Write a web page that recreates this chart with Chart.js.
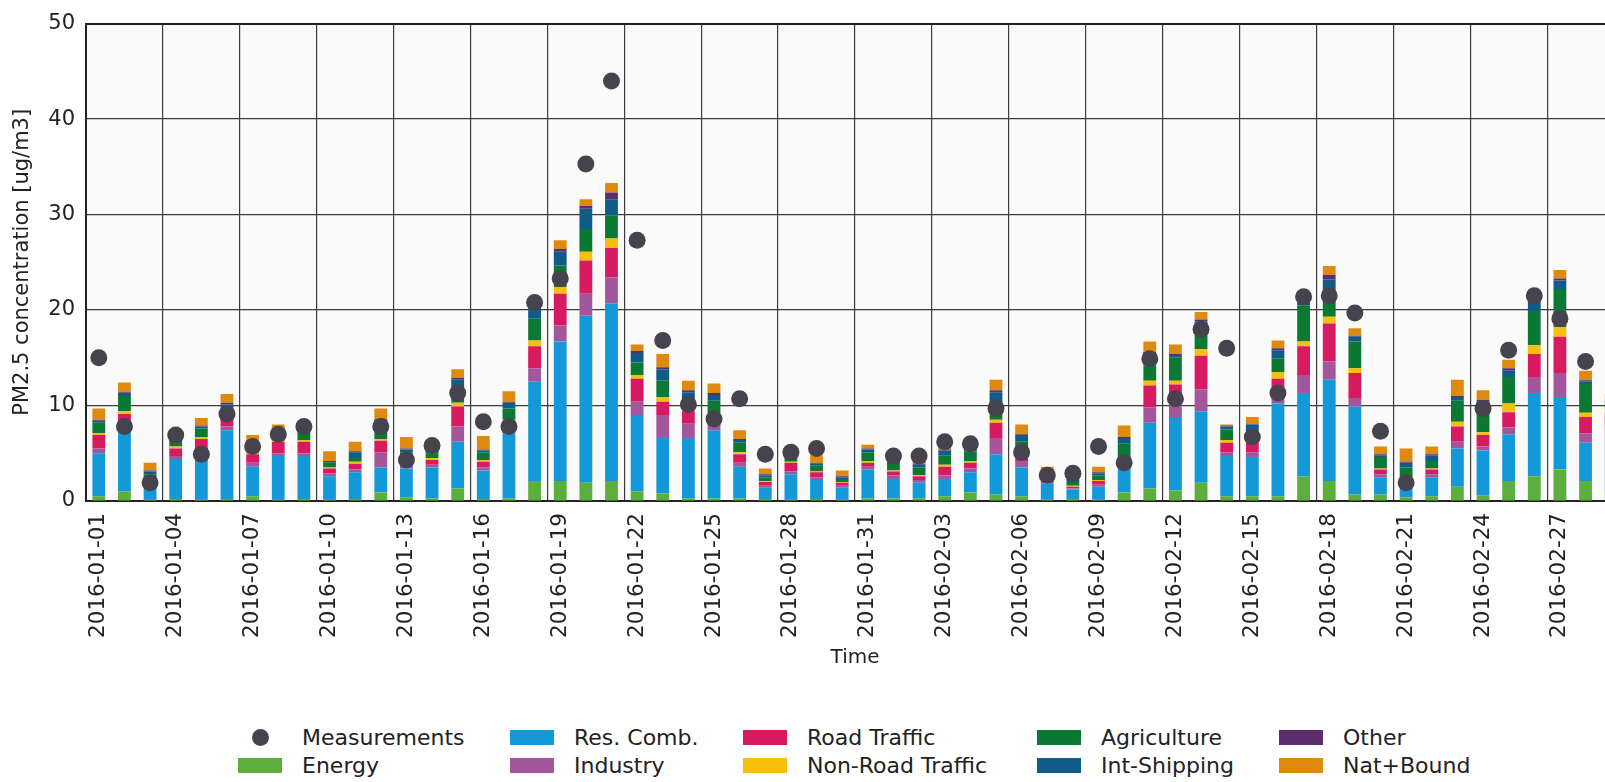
<!DOCTYPE html>
<html>
<head>
<meta charset="utf-8">
<script src="https://cdn.jsdelivr.net/npm/chart.js@4.4.1/dist/chart.umd.min.js"></script>
<style>
  body { margin: 0; background: #fff; overflow: hidden; }
  #wrap { position: relative; width: 1605px; height: 782px; overflow: hidden; }
  #chart { position: absolute; left: 0; top: 0; }
  #legend {
    position: absolute; left: 238px; top: 723px;
    display: grid; grid-auto-flow: column;
    grid-template-rows: 28px 28px;
    grid-template-columns: 272px 233px 294px 242px 220px;
    font-family: 'DejaVu Sans', sans-serif; font-size: 22px; color: #222;
  }
  .item { display: flex; align-items: center; white-space: nowrap; }
  .mark { width: 44px; height: 15px; margin-right: 20px; flex: none; display: flex; justify-content: center; align-items: center; }
  .dot { width: 17px; height: 17px; border-radius: 50%; }
</style>
</head>
<body>
<div id="wrap">
  <canvas id="chart" width="1660" height="700"></canvas>
  <div id="legend"></div>
</div>
<script>
// Dias (ene-feb 2016)
const days = [
  '2016-01-01','2016-01-02','2016-01-03','2016-01-04','2016-01-05','2016-01-06','2016-01-07','2016-01-08','2016-01-09','2016-01-10',
  '2016-01-11','2016-01-12','2016-01-13','2016-01-14','2016-01-15','2016-01-16','2016-01-17','2016-01-18','2016-01-19','2016-01-20',
  '2016-01-21','2016-01-22','2016-01-23','2016-01-24','2016-01-25','2016-01-26','2016-01-27','2016-01-28','2016-01-29','2016-01-30',
  '2016-01-31','2016-02-01','2016-02-02','2016-02-03','2016-02-04','2016-02-05','2016-02-06','2016-02-07','2016-02-08','2016-02-09',
  '2016-02-10','2016-02-11','2016-02-12','2016-02-13','2016-02-14','2016-02-15','2016-02-16','2016-02-17','2016-02-18','2016-02-19',
  '2016-02-20','2016-02-21','2016-02-22','2016-02-23','2016-02-24','2016-02-25','2016-02-26','2016-02-27','2016-02-28','2016-02-29'
];

// Medidas (null = sin dato)
const measurements = [15.0,7.8,1.9,6.9,4.9,9.1,5.7,7.0,7.8,null, null,7.8,4.3,5.8,11.3,8.3,7.8,20.8,23.3,35.3,
  44.0,27.3,16.8,10.1,8.6,10.7,4.9,5.1,5.5,null, null,4.7,4.7,6.2,6.0,9.7,5.1,2.7,2.9,5.7,
  4.0,14.9,10.7,18.0,16.0,6.7,11.3,21.4,21.5,19.7, 7.3,1.9,null,null,9.7,15.8,21.5,19.1,14.6,null];

// Contribuciones por sector
const energy = [0.5,1.0,0.2,0.2,0.2,0.2,0.5,0.2,0.2,0.2, 0.2,0.9,0.4,0.3,1.3,0.2,0.3,2.1,2.1,1.9,
  2.1,1.0,0.8,0.3,0.3,0.3,0.2,0.2,0.2,0.2, 0.3,0.3,0.3,0.5,0.9,0.7,0.5,0.2,0.2,0.2,
  0.9,1.3,1.1,1.9,0.5,0.5,0.5,2.6,2.1,0.7, 0.7,0.4,0.5,1.5,0.6,2.1,2.6,3.3,2.1,1.0];
const resComb = [4.5,6.2,1.4,4.2,4.8,7.2,3.1,4.5,4.5,2.4, 2.8,2.6,3.0,3.2,4.9,3.0,6.8,10.4,14.6,17.5,
  18.6,8.0,5.9,6.3,7.1,3.3,1.2,2.6,2.0,1.2, 3.0,2.0,1.6,1.8,2.1,4.2,3.0,1.6,1.0,1.3,
  2.7,6.9,7.6,7.5,4.2,4.1,9.7,8.7,10.6,9.2, 1.8,1.3,2.0,4.0,4.7,4.9,8.7,7.5,4.0,5.6];
const industry = [0.5,0.5,0.2,0.3,0.4,0.4,0.4,0.3,0.3,0.3, 0.3,1.6,0.3,0.3,1.6,0.3,0.4,1.4,1.7,2.3,
  2.7,1.4,2.3,1.5,0.7,0.4,0.2,0.3,0.3,0.2, 0.3,0.4,0.3,0.4,0.4,1.7,0.7,0.2,0.1,0.2,
  0.3,1.6,1.4,2.3,0.4,0.5,0.8,1.9,1.9,0.9, 0.3,0.3,0.3,0.7,0.4,0.7,1.7,2.6,1.0,0.8];
const roadTraffic = [1.4,1.4,0.3,0.8,1.1,1.0,0.9,1.2,1.2,0.5, 0.6,1.2,0.7,0.5,2.1,0.6,0.8,2.3,3.3,3.5,
  3.1,2.4,1.4,1.3,0.8,0.9,0.4,0.9,0.5,0.3, 0.4,0.4,0.4,0.9,0.6,1.6,0.6,0.3,0.2,0.4,
  0.4,2.3,2.1,3.5,1.0,1.0,1.8,3.0,4.0,2.6, 0.5,0.4,0.5,1.6,1.2,1.6,2.4,3.8,1.7,1.8];
const nonRoad = [0.2,0.3,0.1,0.2,0.2,0.2,0.2,0.2,0.2,0.1, 0.2,0.2,0.1,0.2,0.4,0.2,0.2,0.6,0.7,0.9,
  1.0,0.4,0.5,0.3,0.3,0.2,0.1,0.1,0.1,0.1, 0.2,0.1,0.1,0.2,0.2,0.3,0.2,0.1,0.1,0.1,
  0.2,0.5,0.4,0.7,0.3,0.3,0.7,0.5,0.7,0.5, 0.1,0.1,0.1,0.5,0.3,0.9,0.9,1.0,0.45,0.5];
const agriculture = [1.1,1.6,0.6,0.9,0.9,0.5,0.9,0.7,1.0,0.5, 0.5,1.2,0.6,0.5,0.8,0.8,1.2,2.3,2.3,2.4,
  2.4,1.3,1.7,0.8,1.3,1.0,0.4,0.3,0.6,0.3, 0.9,0.8,0.8,1.0,1.0,1.3,1.2,0.4,0.4,0.5,
  1.5,1.6,2.4,1.7,1.1,0.9,1.4,3.8,2.7,2.8, 1.2,1.0,0.8,2.2,2.4,2.8,3.6,4.0,3.0,0.5];
const intShipping = [0.2,0.3,0.3,0.2,0.2,0.6,0.2,0.2,0.1,0.2, 0.5,0.8,0.3,0.2,1.6,0.2,0.6,1.0,1.4,2.1,
  1.7,1.0,1.2,0.9,0.6,0.3,0.2,0.1,0.2,0.2, 0.3,0.3,0.3,0.5,0.4,1.6,0.7,0.3,0.3,0.2,
  0.6,1.2,0.3,1.2,0.3,0.7,0.9,0.6,1.2,0.5, 0.2,0.5,0.6,0.4,0.8,0.7,1.0,0.9,0.3,0.2];
const other = [0.1,0.1,0.1,0.1,0.1,0.2,0.1,0.1,0.1,0.0, 0.1,0.1,0.1,0.1,0.2,0.1,0.1,0.2,0.3,0.3,
  0.7,0.2,0.2,0.2,0.2,0.1,0.1,0.1,0.1,0.1, 0.1,0.1,0.1,0.1,0.1,0.2,0.1,0.1,0.1,0.1,
  0.1,0.2,0.1,0.2,0.1,0.1,0.2,0.1,0.5,0.1, 0.1,0.1,0.1,0.1,0.2,0.2,0.2,0.2,0.1,0.1];
const natBound = [1.2,1.0,0.8,0.4,0.8,0.9,0.6,0.6,0.1,1.0, 1.0,1.1,1.2,0.2,0.9,1.4,1.1,0.5,0.9,0.7,
  1.0,0.7,1.4,1.0,1.0,0.9,0.6,0.1,0.8,0.6, 0.4,0.6,0.7,0.4,0.2,1.1,1.0,0.4,0.4,0.6,
  1.2,1.1,1.0,0.8,0.1,0.7,0.8,0.1,0.9,0.8, 0.8,1.4,0.8,1.7,1.0,0.9,0.2,0.9,1.0,0.7];

const yTicks = [0, 10, 20, 30, 40, 50];

const sectors = [
  ['Energy', energy, '#5cae3d'],
  ['Res. Comb.', resComb, '#1399d8'],
  ['Industry', industry, '#a4569b'],
  ['Road Traffic', roadTraffic, '#d81b60'],
  ['Non-Road Traffic', nonRoad, '#f5bf0a'],
  ['Agriculture', agriculture, '#0b7834'],
  ['Int-Shipping', intShipping, '#105b87'],
  ['Other', other, '#5e2d6e'],
  ['Nat+Bound', natBound, '#de8a0f']
];

Chart.defaults.font.family = "'DejaVu Sans', sans-serif";
Chart.defaults.color = '#222';

// fondo gris claro del area del grafico
const plotBg = {
  id: 'plotBg',
  beforeDraw(chart) {
    const a = chart.chartArea, c = chart.ctx;
    c.save();
    c.fillStyle = '#fafafa';
    c.fillRect(a.left, a.top, a.right - a.left, a.bottom - a.top);
    c.restore();
  }
};

const datasets = [{
  type: 'line',
  label: 'Measurements',
  data: measurements,
  showLine: false,
  pointRadius: 8.5,
  pointHoverRadius: 8.5,
  pointBorderWidth: 0,
  backgroundColor: '#47434e',
  borderColor: '#47434e',
  stack: 'meas',
  order: 0
}].concat(sectors.map(([name, vals, col]) => ({
  type: 'bar',
  label: name,
  data: vals,
  backgroundColor: col,
  borderWidth: 0,
  barPercentage: 0.5,
  categoryPercentage: 1.0,
  stack: 'src',
  order: 1
})));

const chart = new Chart(document.getElementById('chart'), {
  data: { labels: days, datasets },
  plugins: [plotBg],
  options: {
    responsive: false,
    animation: false,
    layout: { padding: { left: 0, top: 21, right: 36, bottom: 29 } },
    plugins: { legend: { display: false }, tooltip: { enabled: false } },
    scales: {
      x: {
        stacked: true,
        offset: true,
        grid: {
          offset: true,
          drawTicks: false,
          color: ctx => (ctx.index !== undefined && ctx.index % 3 === 0) ? '#3c3c3c' : 'rgba(0,0,0,0)',
          lineWidth: 1.2
        },
        border: { display: true, color: '#222', width: 2 },
        ticks: {
          autoSkip: false,
          maxRotation: 90,
          minRotation: 90,
          padding: 12,
          font: { size: 21.5 },
          callback: (v, i) => i % 3 === 0 ? days[i] : ''
        },
        title: { display: true, text: 'Time', font: { size: 20 }, padding: { top: 0, bottom: 1 } },
        afterFit: s => { s.height = 170; }
      },
      y: {
        stacked: true,
        min: yTicks[0],
        max: yTicks[yTicks.length - 1],
        afterBuildTicks: s => { s.ticks = yTicks.map(v => ({ value: v })); },
        grid: {
          drawTicks: false,
          color: ctx => ctx.tick && ctx.tick.value === 50 ? '#222' : '#3c3c3c',
          lineWidth: ctx => ctx.tick && ctx.tick.value === 50 ? 2 : 1.2
        },
        border: { display: true, color: '#222', width: 2 },
        ticks: { padding: 11, font: { size: 21 } },
        title: { display: true, text: 'PM2.5 concentration [ug/m3]', font: { size: 21 }, padding: { top: 10, bottom: 0 } },
        afterFit: s => { s.width = 86; }
      }
    }
  }
});

// leyenda en 5 columnas (orden por columnas como el original)
const legend = document.getElementById('legend');
chart.data.datasets.forEach(ds => {
  const item = document.createElement('div');
  item.className = 'item';
  const mark = document.createElement('span');
  mark.className = 'mark';
  if (ds.type === 'line') {
    const d = document.createElement('span');
    d.className = 'dot';
    d.style.background = ds.backgroundColor;
    mark.appendChild(d);
  } else {
    mark.style.background = ds.backgroundColor;
  }
  const txt = document.createElement('span');
  txt.textContent = ds.label;
  item.appendChild(mark);
  item.appendChild(txt);
  legend.appendChild(item);
});
</script>
</body>
</html>
